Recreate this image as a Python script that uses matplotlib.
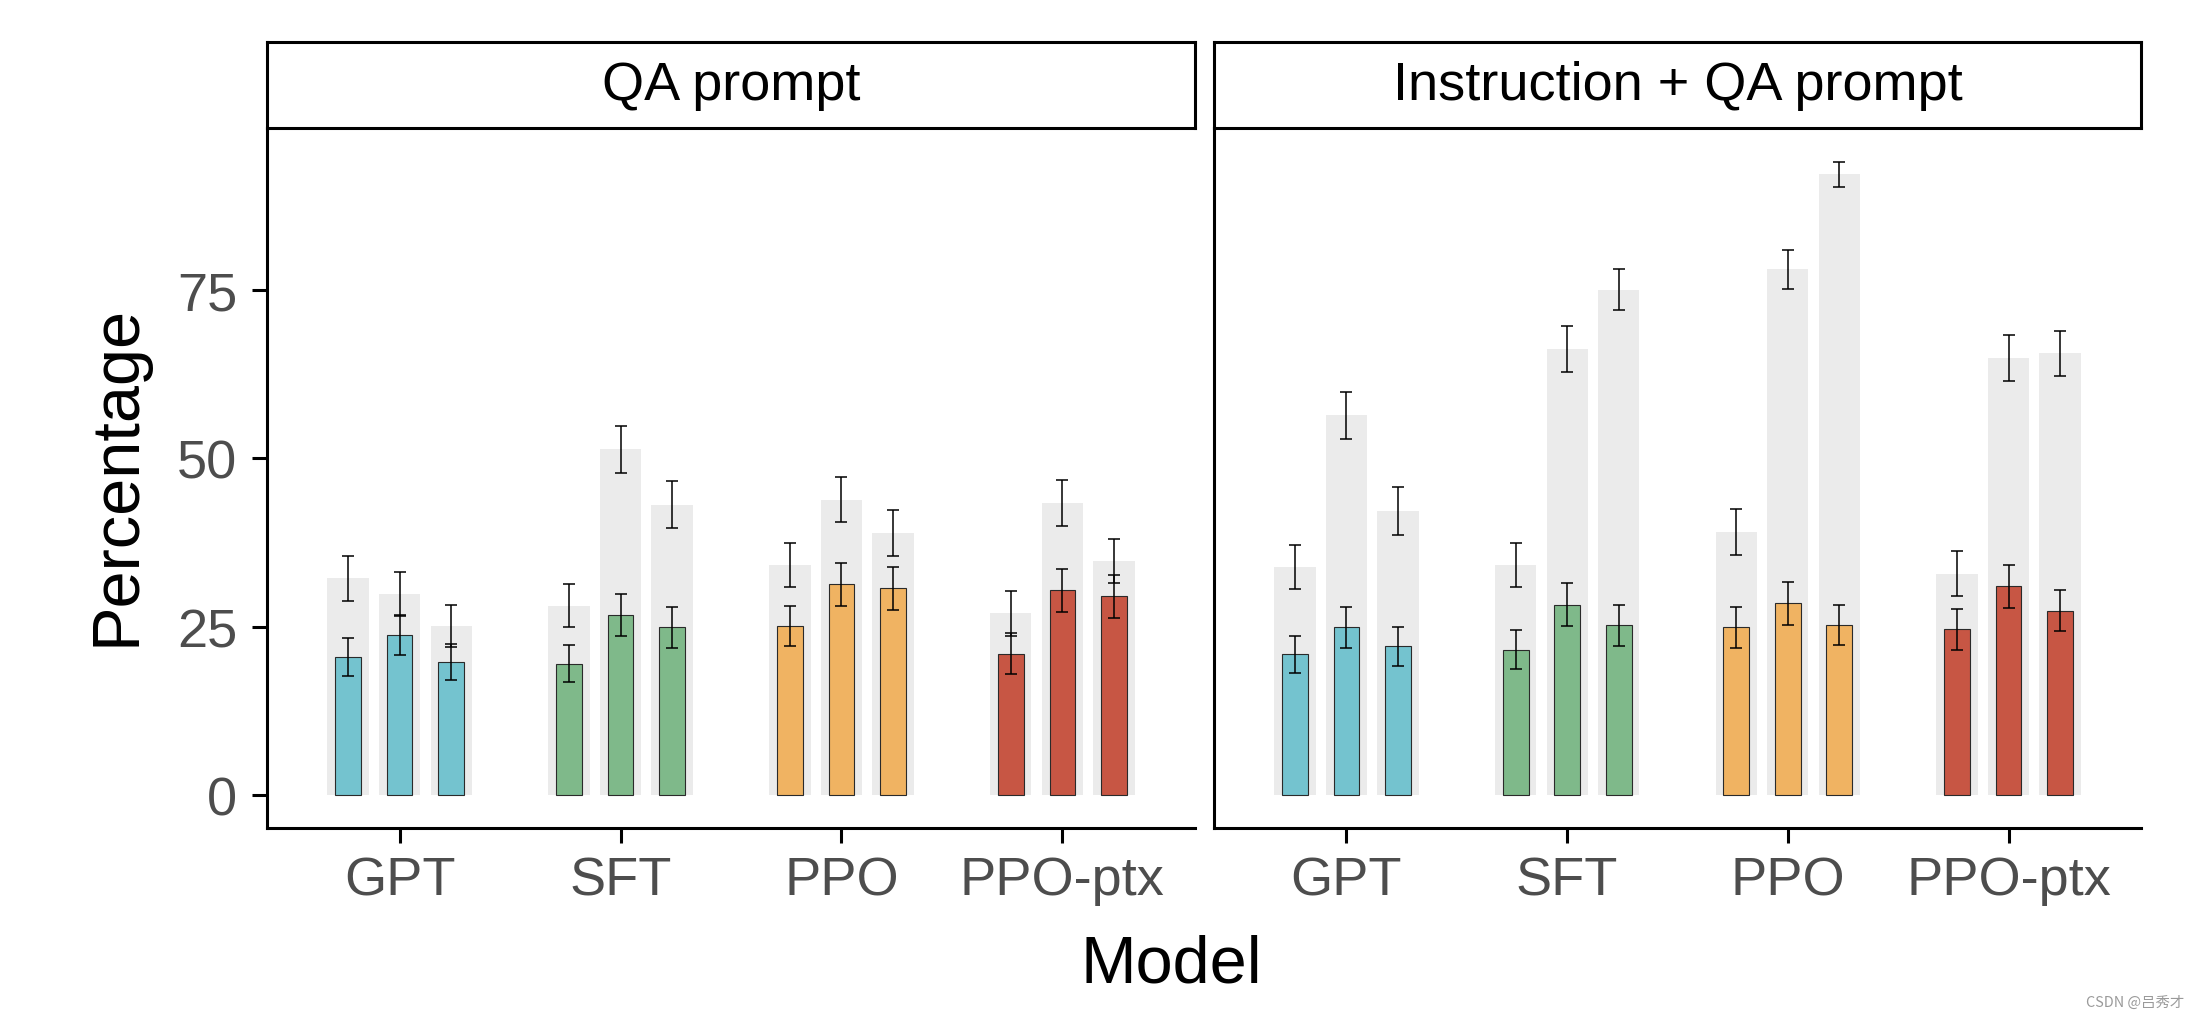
import matplotlib
matplotlib.use('Agg')
import matplotlib.pyplot as plt
import numpy as np

# ---------------- data ----------------
models = ['GPT', 'SFT', 'PPO', 'PPO-ptx']
sizes = ['1.3B', '6B', '175B']
panels = ['QA prompt', 'Instruction + QA prompt']
model_colors = ['#74C3CF', '#7FB98A', '#F0B362', '#C75644']
yticks = [0, 25, 50, 75]

# grey (background) bars
qa_total = [[32.2, 29.9, 25.1], [28.1, 51.4, 43.1], [34.2, 43.9, 38.9], [27.0, 43.4, 34.8]]
qa_total_err = [[3.3, 3.3, 3.1], [3.2, 3.5, 3.5], [3.3, 3.4, 3.4], [3.3, 3.4, 3.3]]
inst_total = [[33.9, 56.4, 42.2], [34.2, 66.3, 75.1], [39.1, 78.1, 92.2], [32.9, 64.9, 65.6]]
inst_total_err = [[3.3, 3.5, 3.5], [3.3, 3.4, 3.0], [3.4, 2.9, 1.9], [3.3, 3.4, 3.4]]

# coloured (foreground) bars
qa_part = [[20.5, 23.8, 19.8], [19.5, 26.8, 24.9], [25.1, 31.3, 30.7], [21.0, 30.4, 29.5]]
qa_part_err = [[2.8, 3.0, 2.7], [2.75, 3.1, 3.0], [3.0, 3.2, 3.2], [3.0, 3.2, 3.2]]
inst_part = [[20.9, 24.9, 22.1], [21.6, 28.3, 25.2], [24.9, 28.5, 25.3], [24.6, 31.0, 27.4]]
inst_part_err = [[2.8, 3.0, 2.9], [2.9, 3.2, 3.1], [3.0, 3.2, 3.0], [3.0, 3.2, 3.1]]

totals = [qa_total, inst_total]
totals_err = [qa_total_err, inst_total_err]
parts = [qa_part, inst_part]
parts_err = [qa_part_err, inst_part_err]

# ---------------- style ----------------
plt.rcParams['font.family'] = ['Liberation Sans', 'DejaVu Sans']
TICK_COLOR = '#4D4D4D'
LW = 1.1

W, H = 2204, 1020
fig = plt.figure(figsize=(W / 200, H / 200), dpi=200)


def fx(px):
    return px / W


def fy(py):
    return 1 - py / H


panel_px = [(267, 1195), (1214, 2141)]
top, bottom, strip_top = 129, 829, 43

dodge = 0.7 / 3
wide = dodge * 0.8
narrow = dodge * 0.5

for pi, panel in enumerate(panels):
    x0, x1 = panel_px[pi]
    ax = fig.add_axes([fx(x0), fy(bottom), (x1 - x0) / W, (bottom - top) / H])
    for mi, model in enumerate(models):
        xs = mi + 1 + (np.arange(len(sizes)) - 1) * dodge
        ax.bar(xs, totals[pi][mi], width=wide, color='#EBEBEB', zorder=1)
        ax.errorbar(xs, totals[pi][mi], yerr=totals_err[pi][mi], fmt='none',
                    ecolor='black', elinewidth=0.55, capsize=2.3, capthick=0.55, zorder=2)
        ax.bar(xs, parts[pi][mi], width=narrow, color=model_colors[mi],
               edgecolor='#2a2a2a', linewidth=0.4, zorder=3)
        ax.errorbar(xs, parts[pi][mi], yerr=parts_err[pi][mi], fmt='none',
                    ecolor='black', elinewidth=0.55, capsize=2.3, capthick=0.55, zorder=4)

    ax.set_xlim(0.4, 4.6)
    ax.set_ylim(-4.9, 99.1)
    ax.set_xticks(range(1, len(models) + 1))
    ax.set_xticklabels(models)
    ax.set_yticks(yticks)
    for s in ['top', 'right']:
        ax.spines[s].set_visible(False)
    for s in ['left', 'bottom']:
        ax.spines[s].set_linewidth(LW)
        ax.spines[s].set_color('black')
    ax.tick_params(axis='x', length=5.3, width=LW, pad=4.5, labelsize=19.5, labelcolor=TICK_COLOR)
    if pi == 0:
        ax.tick_params(axis='y', length=5.3, width=LW, pad=5.5, labelsize=19.5, labelcolor=TICK_COLOR)
    else:
        ax.tick_params(axis='y', length=0, labelleft=False)
    ax.set_facecolor('white')

    # facet strip
    sax = fig.add_axes([fx(x0), fy(top), (x1 - x0) / W, (top - strip_top) / H])
    sax.set_xticks([])
    sax.set_yticks([])
    for s in sax.spines.values():
        s.set_linewidth(LW)
        s.set_color('black')
    sax.text(0.5, 0.5, panel, ha='center', va='center', fontsize=19.5,
             color='black', transform=sax.transAxes)

fig.text(fx(117), fy(475), 'Percentage', rotation=90, ha='center', va='center',
         fontsize=24, color='black')
fig.text(fx(1171), fy(983), 'Model', ha='center', va='baseline',
         fontsize=24, color='black')
fig.text(fx(2184), fy(1003), 'CSDN @吕秀才', ha='right', va='center', fontsize=5.2,
         color='#9a9a9a', family=['Noto Sans CJK SC', 'DejaVu Sans'])

fig.savefig('out.png', dpi=200, facecolor='white')
